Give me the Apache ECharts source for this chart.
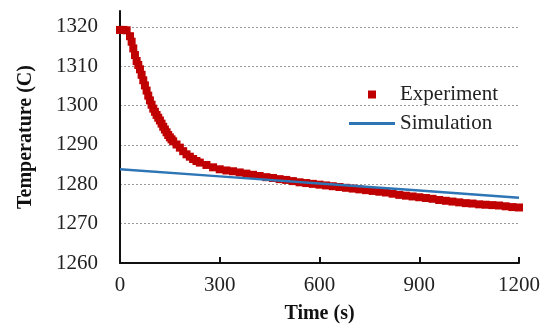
<!DOCTYPE html>
<html>
<head>
<meta charset="utf-8">
<script src="https://cdn.jsdelivr.net/npm/echarts@6/dist/echarts.min.js"></script>
<style>
  html, body { margin: 0; padding: 0; background: #fff; }
  #chart { width: 550px; height: 329px; }
</style>
</head>
<body>
<div id="chart"></div>
<script>
// measured temperature (s, C)
const expTime = [0, 10, 20, 30, 35, 40, 45, 50, 55, 60, 65, 70, 75, 80, 85, 90, 95, 100, 105, 110,
  115, 120, 125, 130, 135, 140, 145, 150, 155, 160, 170, 180, 190,
  200, 210, 220, 230, 240, 260, 280, 300, 320, 340, 360, 380, 400, 420, 440, 460, 480, 500, 520, 540,
  560, 580, 600, 620, 640, 660, 680, 700, 720, 740, 760, 780, 800, 820, 840, 860, 880, 900, 920, 940,
  960, 980, 1000, 1020, 1040, 1060, 1080, 1100, 1120, 1140, 1160, 1180, 1200];
const expTemp = [1319.2, 1319.2, 1319.1, 1317.6, 1316.2, 1314.5, 1312.8, 1311.3, 1310.3, 1309.2, 1307.8, 1306.4, 1305.1, 1303.8, 1302.5, 1301.3, 1300.2, 1299.2, 1298.4, 1297.6,
  1296.9, 1296.2, 1295.4, 1294.6, 1293.9, 1293.2, 1292.5, 1291.9, 1291.4, 1290.9, 1290.1, 1289.3, 1288.4,
  1287.6, 1287.0, 1286.4, 1285.9, 1285.5, 1284.9, 1284.3, 1283.8, 1283.5, 1283.3, 1283.0, 1282.7, 1282.4, 1282.1, 1281.8, 1281.6, 1281.3, 1281.1, 1280.8, 1280.5,
  1280.3, 1280.1, 1279.9, 1279.7, 1279.5, 1279.3, 1279.1, 1278.9, 1278.7, 1278.5, 1278.3, 1278.1, 1277.9, 1277.6, 1277.3, 1277.1, 1276.9, 1276.7, 1276.5, 1276.3,
  1276.0, 1275.8, 1275.6, 1275.4, 1275.2, 1275.1, 1274.9, 1274.8, 1274.7, 1274.6, 1274.4, 1274.2, 1274.1];

// simulated temperature
const simTime = [0, 300, 600, 900, 1200];
const simTemp = [1283.8, 1282.0, 1280.2, 1278.4, 1276.6];

const xTicks = [0, 300, 600, 900, 1200];

const FONT = 'Liberation Serif';

const chart = echarts.init(document.getElementById('chart'));

const option = {
  animation: false,
  backgroundColor: '#fff',
  grid: {
    left: 120,
    right: 31,
    top: 11,
    bottom: 62
  },
  legend: {
    orient: 'vertical',
    left: 344,
    top: 79,
    itemWidth: 46,
    itemHeight: 8,
    itemGap: 8,
    symbolKeepAspect: true,
    textStyle: { fontFamily: FONT, fontSize: 21, color: '#222' },
    data: [
      { name: 'Experiment', icon: 'path://M0,0h1v1h-1z' },
      { name: 'Simulation', icon: 'path://M0,0h46v3h-46z' }
    ]
  },
  xAxis: {
    type: 'value',
    min: xTicks[0],
    max: xTicks[xTicks.length - 1],
    interval: 300,
    name: 'Time (s)',
    nameLocation: 'middle',
    nameGap: 41,
    nameTextStyle: { fontFamily: FONT, fontSize: 20, fontWeight: 'bold', color: '#111' },
    axisLine: { lineStyle: { color: '#111', width: 2 } },
    axisTick: { inside: true, length: 6, lineStyle: { color: '#111', width: 2 } },
    axisLabel: { fontFamily: FONT, fontSize: 21, color: '#222', margin: 12, formatter: v => String(v) },
    splitLine: { show: false }
  },
  yAxis: {
    type: 'value',
    min: 1260,
    max: 1324,
    interval: 10,
    name: 'Temperature (C)',
    nameLocation: 'middle',
    nameGap: 84,
    nameTextStyle: { fontFamily: FONT, fontSize: 20, fontWeight: 'bold', color: '#111' },
    axisLine: { show: true, lineStyle: { color: '#111', width: 2 } },
    axisTick: { show: false },
    axisLabel: { fontFamily: FONT, fontSize: 21, color: '#222', margin: 22, showMaxLabel: false, formatter: v => String(v) },
    splitLine: {
      show: true,
      lineStyle: {
        type: [2, 2],
        width: 1,
        color: ['transparent', '#9a9a9a', '#9a9a9a', '#9a9a9a', '#9a9a9a', '#9a9a9a', '#9a9a9a', 'transparent']
      }
    }
  },
  series: [
    {
      name: 'Simulation',
      type: 'line',
      showSymbol: false,
      symbol: 'none',
      lineStyle: { color: '#2e75b6', width: 2.5 },
      itemStyle: { color: '#2e75b6' },
      data: simTime.map((t, i) => [t, simTemp[i]]),
      z: 3
    },
    {
      name: 'Experiment',
      type: 'scatter',
      symbol: 'rect',
      symbolSize: 8,
      itemStyle: { color: '#c00000', opacity: 1 },
      data: expTime.map((t, i) => [t, expTemp[i]]),
      z: 2
    }
  ]
};

chart.setOption(option);
</script>
</body>
</html>
